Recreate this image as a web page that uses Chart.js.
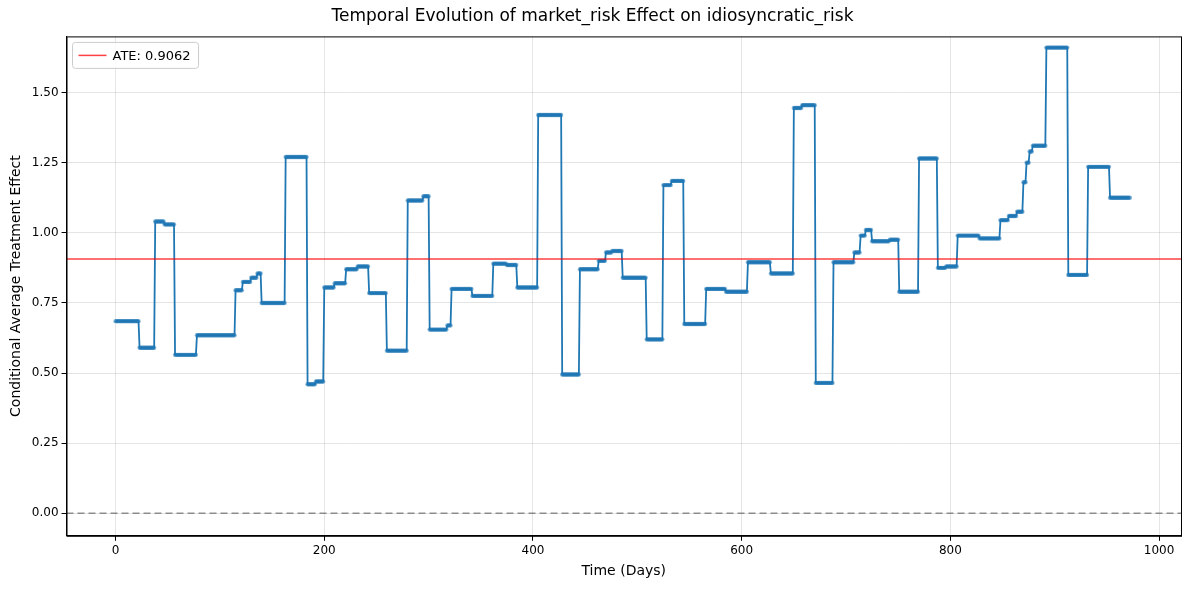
<!DOCTYPE html>
<html>
<head>
<meta charset="utf-8">
<script src="https://cdn.jsdelivr.net/npm/chart.js@4"></script>
<style>
	body { margin: 0; background: #fff; }
	#wrap { position: relative; width: 1189px; height: 590px; }
</style>
</head>
<body>
<div id="wrap"><canvas id="chart"></canvas></div>
<script>
// Step levels of the effect: each level holds from its start day until the next start day
const segStart = [0, 23, 38, 47, 57, 78, 115, 122, 130, 136, 140, 163, 184, 192, 200, 210, 221, 232, 243,
	260, 280, 295, 301, 318, 322, 342, 362, 375, 385, 405, 428, 445, 463, 470, 476, 486, 509, 525, 533,
	545, 566, 585, 606, 628, 650, 658, 671, 688, 708, 714, 719, 725, 742, 751, 770, 788, 796, 807, 828,
	848, 856, 864, 870, 873, 876, 879, 892, 913, 932, 953];
const segValue = [0.685, 0.59, 1.04, 1.03, 0.565, 0.635, 0.795, 0.825, 0.84, 0.855, 0.75, 1.27, 0.46, 0.47,
	0.805, 0.82, 0.87, 0.88, 0.785, 0.58, 1.115, 1.13, 0.655, 0.67, 0.80, 0.775, 0.89, 0.885, 0.805, 1.42,
	0.495, 0.87, 0.90, 0.93, 0.935, 0.84, 0.62, 1.17, 1.185, 0.675, 0.80, 0.79, 0.895, 0.855, 1.445, 1.455,
	0.465, 0.895, 0.93, 0.99, 1.01, 0.97, 0.975, 0.79, 1.265, 0.875, 0.88, 0.99, 0.98, 1.045, 1.06, 1.075,
	1.18, 1.25, 1.29, 1.31, 1.66, 0.85, 1.235, 1.125];
const lastDay = 972;
const ate = 0.9062;
const xTicks = [0, 200, 400, 600, 800, 1000];
const yTicks = [0, 0.25, 0.5, 0.75, 1.0, 1.25, 1.5];

// one point per day, taking the level in force that day
const points = [];
for (let i = 0; i < segStart.length; i++) {
	const end = i + 1 < segStart.length ? segStart[i + 1] : lastDay + 1;
	for (let d = segStart[i]; d < end; d++) points.push({ x: d, y: segValue[i] });
}

const xMin = -47, xMax = 1021;
const ateLabel = 'ATE: ' + ate.toFixed(4);

// matplotlib-style frame and legend box inside the plot area
const frameAndLegend = {
	id: 'frameAndLegend',
	afterDraw(chart) {
		const { ctx, chartArea: a } = chart;
		ctx.save();
		ctx.strokeStyle = '#000';
		ctx.lineWidth = 1;
		ctx.strokeRect(a.left + 0.5, a.top + 0.5, a.right - a.left, a.bottom - a.top);
		ctx.font = '13px "DejaVu Sans"';
		const tw = ctx.measureText(ateLabel).width;
		const bx = a.left + 6, by = a.top + 6, bw = tw + 48, bh = 26;
		ctx.fillStyle = 'rgba(255,255,255,0.8)';
		ctx.strokeStyle = '#ccc';
		ctx.beginPath();
		ctx.roundRect(bx, by, bw, bh, 3);
		ctx.fill();
		ctx.stroke();
		ctx.strokeStyle = 'rgba(255,0,0,0.75)';
		ctx.lineWidth = 1.5;
		ctx.beginPath();
		ctx.moveTo(bx + 6, by + bh / 2);
		ctx.lineTo(bx + 34, by + bh / 2);
		ctx.stroke();
		ctx.fillStyle = '#000';
		ctx.textBaseline = 'middle';
		ctx.fillText(ateLabel, bx + 40, by + bh / 2 + 1);
		ctx.restore();
	}
};

new Chart(document.getElementById('chart'), {
	type: 'line',
	data: {
		datasets: [
			{
				label: 'cate',
				data: points,
				borderColor: '#1f77b4',
				borderWidth: 1.8,
				pointRadius: 2.2,
				pointBorderWidth: 0,
				pointBackgroundColor: 'rgba(31,119,180,0.55)',
				order: 1
			},
			{
				label: ateLabel,
				data: [{ x: xMin, y: ate }, { x: xMax, y: ate }],
				borderColor: 'rgba(255,0,0,0.75)',
				borderWidth: 1.5,
				pointRadius: 0,
				order: 0
			},
			{
				label: 'zero',
				data: [{ x: xMin, y: 0 }, { x: xMax, y: 0 }],
				borderColor: 'rgba(100,100,100,0.7)',
				borderWidth: 1.5,
				borderDash: [7, 4],
				pointRadius: 0,
				order: 2
			}
		]
	},
	options: {
		responsive: true,
		maintainAspectRatio: false,
		animation: false,
		layout: { padding: { left: 4, right: 8, top: 6, bottom: 6 } },
		plugins: {
			title: {
				display: true,
				text: 'Temporal Evolution of market_risk Effect on idiosyncratic_risk',
				color: '#000',
				font: { family: 'DejaVu Sans', size: 17, weight: 'normal' },
				padding: { top: 0, bottom: 10 }
			},
			legend: { display: false },
			tooltip: { enabled: false }
		},
		scales: {
			x: {
				type: 'linear',
				min: xMin,
				max: xMax,
				afterBuildTicks: axis => { axis.ticks = xTicks.map(v => ({ value: v })); },
				title: { display: true, text: 'Time (Days)', color: '#000', font: { family: 'DejaVu Sans', size: 14 }, padding: { top: 2 } },
				ticks: { color: '#000', font: { family: 'DejaVu Sans', size: 12 }, callback: v => String(v) },
				grid: { color: 'rgba(0,0,0,0.1)', tickColor: '#000', tickLength: 5 },
				border: { color: '#000' }
			},
			y: {
				min: -0.08,
				max: 1.70,
				afterBuildTicks: axis => { axis.ticks = yTicks.map(v => ({ value: v })); },
				title: { display: true, text: 'Conditional Average Treatment Effect', color: '#000', font: { family: 'DejaVu Sans', size: 14 } },
				ticks: { color: '#000', font: { family: 'DejaVu Sans', size: 12 }, callback: v => v.toFixed(2) },
				grid: { color: 'rgba(0,0,0,0.1)', tickColor: '#000', tickLength: 5 },
				border: { color: '#000' }
			}
		}
	},
	plugins: [frameAndLegend]
});
</script>
</body>
</html>
